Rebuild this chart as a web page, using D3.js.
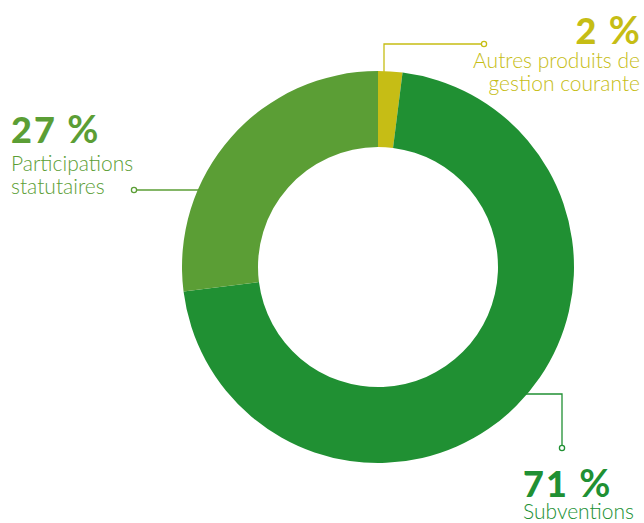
<!DOCTYPE html>
<html>
<head>
<meta charset="utf-8">
<script src="https://cdn.jsdelivr.net/npm/d3@7"></script>
<style>
  body { margin: 0; background: #fff; }
  svg { display: block; }
</style>
</head>
<body>
<div id="mainChart"></div>
<script>
const categories = ['Autres produits de gestion courante', 'Subventions', 'Participations statutaires'];
const values = [2, 71, 27];
const colors = ['#c6bd15', '#209033', '#5b9e35'];
const pctNumbers = ['2', '71', '27'];
const nameLines = [['Autres produits de', 'gestion courante'], ['Subventions'], ['Participations', 'statutaires']];

const width = 644, height = 523;
const cx = 378, cy = 267, outerR = 196, innerR = 120;

const svg = d3.select('#mainChart').append('svg')
    .attr('width', width)
    .attr('height', height);

const pie = d3.pie().sort(null).value(d => d);
const arc = d3.arc().innerRadius(innerR).outerRadius(outerR);
const arcs = pie(values);

const g = svg.append('g').attr('transform', `translate(${cx},${cy})`);
g.selectAll('path')
    .data(arcs)
    .enter().append('path')
    .attr('d', arc)
    .attr('fill', (d, i) => colors[i]);

// leader lines, each starting on the ring edge of its slice
const edgeX = (y, side) => cx + side * Math.sqrt(outerR * outerR - (y - cy) * (y - cy));
const leaders = [
    [[384, 72], [384, 44], [484, 44]],
    [[edgeX(394, 1) - 2, 394], [562, 394], [562, 448]],
    [[edgeX(190, -1) + 2, 190], [134, 190]],
];
leaders.forEach((pts, i) => {
    svg.append('path')
        .attr('d', d3.line()(pts))
        .attr('fill', 'none')
        .attr('stroke', colors[i])
        .attr('stroke-width', 1.3);
    const end = pts[pts.length - 1];
    svg.append('circle')
        .attr('cx', end[0]).attr('cy', end[1]).attr('r', 2.6)
        .attr('fill', '#fff')
        .attr('stroke', colors[i])
        .attr('stroke-width', 1.3);
});

// labels
const labelPos = [
    { x: 640, y: 44, anchor: 'end', lineY: [68, 91] },
    { x: 523, y: 497, anchor: 'start', lineY: [519] },
    { x: 11, y: 143, anchor: 'start', lineY: [171, 194] },
];
labelPos.forEach((lp, i) => {
    const t = svg.append('text')
        .attr('x', lp.x).attr('y', lp.y)
        .attr('text-anchor', lp.anchor)
        .attr('font-family', 'Lato, sans-serif')
        .attr('font-size', 36)
        .attr('fill', colors[i]);
    t.append('tspan')
        .attr('font-weight', 900)
        .attr('letter-spacing', 2)
        .text(pctNumbers[i] + ' ');
    t.append('tspan')
        .attr('font-weight', 700)
        .attr('font-size', 38)
        .text('%');
    nameLines[i].forEach((s, j) => {
        svg.append('text')
            .attr('x', lp.x).attr('y', lp.lineY[j])
            .attr('text-anchor', lp.anchor)
            .attr('font-family', 'Lato, sans-serif')
            .attr('font-weight', 300)
            .attr('font-size', 21)
            .attr('fill', colors[i])
            .text(s);
    });
});
</script>
</body>
</html>
